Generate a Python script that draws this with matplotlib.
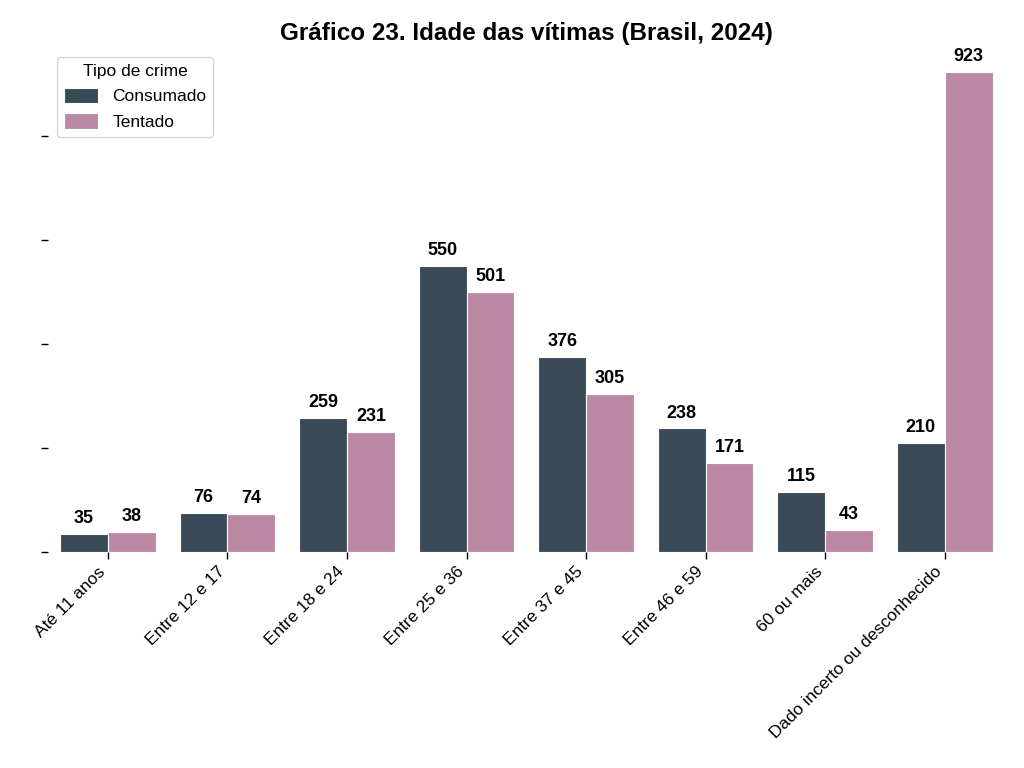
import numpy as np
import matplotlib
matplotlib.use("Agg")
import matplotlib.pyplot as plt

plt.rcParams['font.family'] = ['Liberation Sans', 'DejaVu Sans']

# dados
faixas = ["Até 11 anos", "Entre 12 e 17", "Entre 18 e 24", "Entre 25 e 36",
          "Entre 37 e 45", "Entre 46 e 59", "60 ou mais",
          "Dado incerto ou desconhecido"]
consumado = [35, 76, 259, 550, 376, 238, 115, 210]
tentado = [38, 74, 231, 501, 305, 171, 43, 923]

cor_cons = "#3a4a56"
cor_tent = "#bc89a5"

fig = plt.figure(figsize=(10.24, 7.68), dpi=100)
ax = fig.add_axes([0.047, 0.281, 0.934, 0.656])

x = np.arange(len(faixas))
w = 0.4
b1 = ax.bar(x - w/2, consumado, w, color=cor_cons, edgecolor="white", linewidth=0.8, label="Consumado")
b2 = ax.bar(x + w/2, tentado, w, color=cor_tent, edgecolor="white", linewidth=0.8, label="Tentado")

for bars in (b1, b2):
    for b in bars:
        ax.annotate(str(int(b.get_height())), (b.get_x() + b.get_width()/2, b.get_height()),
                    xytext=(0, 5), textcoords="offset points", ha="center", va="bottom",
                    fontsize=13, fontweight="bold")

ax.set_xlim(-0.5, len(faixas) - 0.5)
ax.set_ylim(0, max(tentado) * 1.05)
ax.set_yticks([0, 200, 400, 600, 800])
ax.set_yticklabels([])
ax.set_xticks(x)
ax.set_xticklabels(faixas, rotation=45, ha="right", fontsize=12.5)
ax.tick_params(axis="both", length=5, width=1)
for s in ax.spines.values():
    s.set_visible(False)

ax.set_title("Gráfico 23. Idade das vítimas (Brasil, 2024)", fontsize=17.5, fontweight="bold", pad=6)
leg = ax.legend(title="Tipo de crime", loc="upper left", fontsize=12.5, title_fontsize=12.5,
                bbox_to_anchor=(0.0, 1.0), fancybox=True, handlelength=2.0, handleheight=1.0)

fig.savefig("out.png", dpi=100)
